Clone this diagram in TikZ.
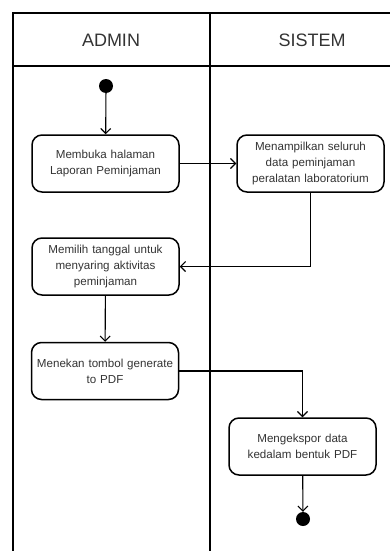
\documentclass[tikz,border=0pt]{standalone}
\usepackage{fontspec}
\setmainfont{Liberation Sans}
\definecolor{mLine}{HTML}{000000}
\definecolor{mText}{HTML}{333333}
\usepackage{tikz}
\usetikzlibrary{positioning,arrows.meta,calc}
\newcommand{\actnode}[4]{%
 \node[draw=mLine, line width=1.5pt, rounded corners=10pt, minimum width=147pt, minimum height=57pt, text width=145pt, align=center, inner sep=0pt, font=\fontsize{11.6}{15.7}\selectfont, text=mText] (#3) at (#1,#2) {#4};%
}
\tikzset{
 flow/.style={-{Straight Barb[length=5pt,width=10pt]}, line width=1.1pt, mLine},
 dot/.style={circle, fill=mLine, minimum size=14pt, inner sep=0pt},
 lanehead/.style={font=\fontsize{18}{20}\selectfont, text=mText}
}

\begin{document}
\begin{tikzpicture}[x=1pt,y=-1pt]
\useasboundingbox (0,0) rectangle (390,551);
% swimlanes
\draw[line width=1.2pt] (390,13) -- (13,13) -- (13,551);
\draw[line width=1.2pt] (13,66) -- (390,66);
\draw[line width=1.2pt] (210,13) -- (210,551);
\node[lanehead] (hadmin) at (111,40) {ADMIN};
\node[lanehead] (hsistem) at (312,40) {SISTEM};
% activities
\node[dot] (start) at (106,86) {};
\actnode{105.5}{163.5}{buka}{Membuka halaman\\Laporan Peminjaman}
\actnode{310.5}{163.5}{tampil}{Menampilkan seluruh\\data peminjaman\\peralatan laboratorium}
\actnode{105.5}{266.5}{pilih}{Memilih tanggal untuk\\menyaring aktivitas\\peminjaman}
\actnode{105}{371}{tekan}{Menekan tombol generate\\to PDF}
\actnode{302.5}{446.5}{ekspor}{Mengekspor data\\kedalam bentuk PDF}
\node[dot] (finish) at (303,519) {};
% flows
\draw[flow] (start) -- (buka);
\draw[flow] (buka.east) -- (tampil.west);
\draw[flow] (tampil.south) |- (pilih.east);
\draw[flow] (pilih) -- (tekan);
\draw[flow] (tekan.east) -| (ekspor.north);
\draw[flow] (ekspor) -- (finish);
\end{tikzpicture}
\end{document}
